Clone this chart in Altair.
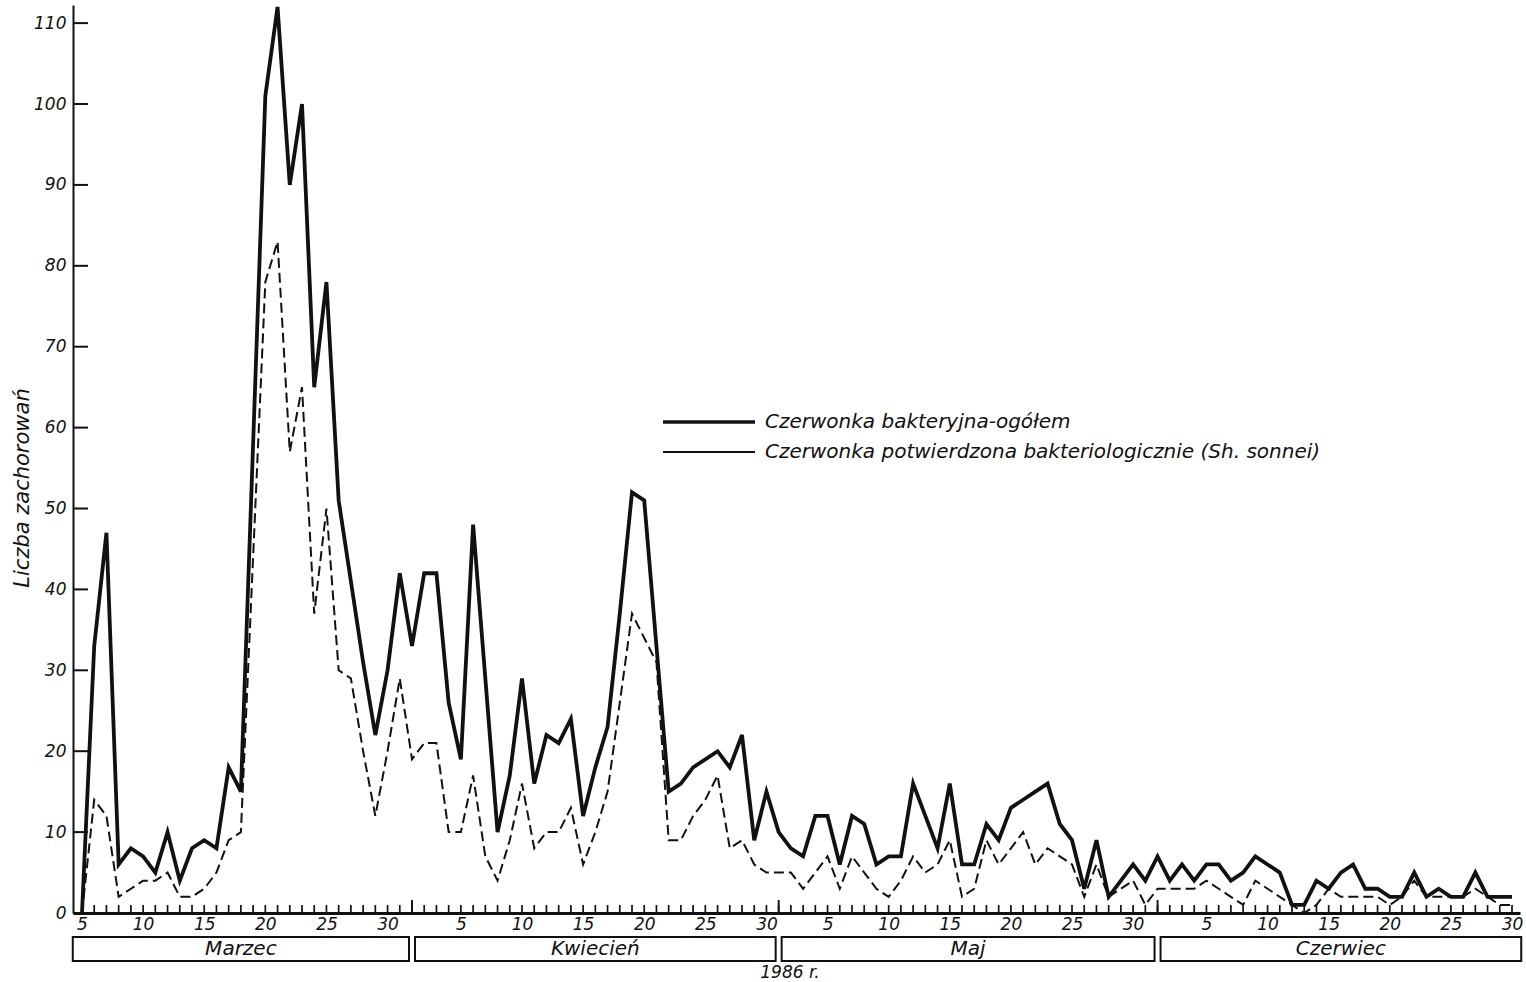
import altair as alt
import pandas as pd

# Daily numbers of cases, 5 March - 30 June 1986
total_march = [0, 33, 47, 6, 8, 7, 5, 10, 4, 8, 9, 8, 18, 15, 58, 101, 112, 90, 100, 65,
               78, 51, 41, 31, 22, 30, 42]
total_april = [33, 42, 42, 26, 19, 48, 29, 10, 17, 29, 16, 22, 21, 24, 12, 18, 23, 37, 52, 51,
               33, 15, 16, 18, 19, 20, 18, 22, 9, 15]
total_may = [10, 8, 7, 12, 12, 6, 12, 11, 6, 7, 7, 16, 12, 8, 16, 6, 6, 11, 9, 13,
             14, 15, 16, 11, 9, 3, 9, 2, 4, 6, 4]
total_june = [7, 4, 6, 4, 6, 6, 4, 5, 7, 6, 5, 1, 1, 4, 3, 5, 6, 3, 3, 2,
              2, 5, 2, 3, 2, 2, 5, 2, 2, 2]

sonnei_march = [0, 14, 12, 2, 3, 4, 4, 5, 2, 2, 3, 5, 9, 10, 44, 78, 83, 57, 65, 37,
                50, 30, 29, 20, 12, 20, 29]
sonnei_april = [19, 21, 21, 10, 10, 17, 7, 4, 9, 16, 8, 10, 10, 13, 6, 10, 15, 26, 37, 34,
                31, 9, 9, 12, 14, 17, 8, 9, 6, 5]
sonnei_may = [5, 5, 3, 5, 7, 3, 7, 5, 3, 2, 4, 7, 5, 6, 9, 2, 3, 9, 6, 8,
              10, 6, 8, 7, 6, 2, 6, 2, 3, 4, 1]
sonnei_june = [3, 3, 3, 3, 4, 3, 2, 1, 4, 3, 2, 1, 0, 1, 3, 2, 2, 2, 2, 1,
               2, 4, 2, 2, 2, 2, 3, 2, 1, 1]

month_names = ["Marzec", "Kwiecień", "Maj", "Czerwiec"]
month_starts = ["1986-03-04", "1986-04-01", "1986-05-01", "1986-06-01"]
month_ends = ["1986-04-01", "1986-05-01", "1986-06-01", "1986-07-01"]
month_lengths = [31, 30, 31, 30]

y_title = "Liczba zachorowań"
legend_total = "Czerwonka bakteryjna-ogółem"
legend_sonnei = "Czerwonka potwierdzona bakteriologicznie (Sh. sonnei)"
year_label = "1986 r."

INK = "#111111"
FONT = "DejaVu Sans"
W, H = 1447, 908

dates = pd.date_range("1986-03-05", "1986-06-30", freq="D")
df = pd.DataFrame({
    "date": dates.strftime("%Y-%m-%d"),
    "total": total_march + total_april + total_may + total_june,
    "sonnei": sonnei_march + sonnei_april + sonnei_may + sonnei_june,
})

starts = pd.to_datetime(month_starts)
ends = pd.to_datetime(month_ends)
months = pd.DataFrame({
    "name": month_names,
    "start": starts.strftime("%Y-%m-%dT%H:%M:%SZ"),
    "end": ends.strftime("%Y-%m-%dT%H:%M:%SZ"),
    "mid": (starts + (ends - starts) / 2).strftime("%Y-%m-%dT%H:%M:%SZ"),
})
first_days = pd.DataFrame({"date": month_starts[1:]})

label_dates = []
for m, last in zip([3, 4, 5, 6], month_lengths):
    for d in range(5, last + 1, 5):
        label_dates.append(alt.DateTime(year=1986, month=m, date=d, utc=True))

xscale = alt.Scale(
    type="utc",
    domain=[alt.DateTime(year=1986, month=3, date=4, hours=6, minutes=20, utc=True),
            alt.DateTime(year=1986, month=6, date=30, hours=15, minutes=42, utc=True)],
)
yscale = alt.Scale(domain=[0, 112.24], nice=False, zero=True)

xaxis = alt.Axis(values=label_dates, labelExpr="utcdate(datum.value)", title=None,
                 grid=False, ticks=False, domainColor=INK, domainWidth=3,
                 labelFont=FONT, labelFontSize=17, labelFontStyle="italic",
                 labelColor=INK, labelPadding=3, labelOverlap=False, labelFlush=False)
yaxis = alt.Axis(values=list(range(0, 111, 10)), title=None, grid=False, ticks=False,
                 domainColor=INK, domainWidth=2, labelFont=FONT, labelFontSize=17,
                 labelFontStyle="italic", labelColor=INK, labelPadding=7)

X = alt.X("date:T", scale=xscale, axis=xaxis)

# inward ticks on the value axis
yticks = alt.Chart(pd.DataFrame({"v": list(range(0, 111, 10))})).mark_rule(
    strokeWidth=2, color=INK
).encode(y=alt.Y("v:Q", scale=yscale, axis=yaxis), x=alt.value(0), x2=alt.value(15))

# one small tick per day along the time axis, taller at the first of each month
day_ticks = alt.Chart(df).mark_rule(strokeWidth=1.7, color=INK).encode(
    x=X, y=alt.value(H - 1), y2=alt.value(H - 8)
)
month_ticks = alt.Chart(first_days).mark_rule(strokeWidth=1.9, color=INK).encode(
    x=X, y=alt.value(H), y2=alt.value(H - 13)
)

sonnei_line = alt.Chart(df).mark_line(
    color=INK, strokeWidth=2, strokeDash=[10, 5]
).encode(x=X, y=alt.Y("sonnei:Q", scale=yscale, axis=yaxis))

total_line = alt.Chart(df).mark_line(
    color=INK, strokeWidth=3.8, strokeJoin="miter"
).encode(x=X, y=alt.Y("total:Q", scale=yscale, axis=yaxis))

# month boxes under the axis
boxes = alt.Chart(months).mark_rect(
    fillOpacity=0, stroke=INK, strokeWidth=2, xOffset=3, x2Offset=-3
).encode(
    x=alt.X("start:T", scale=xscale, axis=xaxis), x2="end:T",
    y=alt.value(932), y2=alt.value(956)
)
box_text = alt.Chart(months).mark_text(
    font=FONT, fontSize=20, fontStyle="italic", color=INK, baseline="middle"
).encode(x=alt.X("mid:T", scale=xscale, axis=xaxis), y=alt.value(944), text="name:N")

year_text = alt.Chart(pd.DataFrame({"t": [year_label]})).mark_text(
    font=FONT, fontSize=17, fontStyle="italic", color=INK, baseline="middle"
).encode(x=alt.value(717), y=alt.value(968), text="t:N")

title_text = alt.Chart(pd.DataFrame({"t": [y_title]})).mark_text(
    font=FONT, fontSize=21, fontStyle="italic", color=INK, angle=270, baseline="middle"
).encode(x=alt.value(-50), y=alt.value(483), text="t:N")

# legend
leg1_line = alt.Chart(pd.DataFrame({"t": [legend_total]})).mark_rule(
    strokeWidth=3.5, color=INK
).encode(x=alt.value(590), x2=alt.value(682), y=alt.value(417))
leg1_text = alt.Chart(pd.DataFrame({"t": [legend_total]})).mark_text(
    font=FONT, fontSize=20, fontStyle="italic", color=INK, align="left", baseline="middle"
).encode(x=alt.value(692), y=alt.value(417), text="t:N")
leg2_line = alt.Chart(pd.DataFrame({"t": [legend_sonnei]})).mark_rule(
    strokeWidth=1.8, color=INK
).encode(x=alt.value(590), x2=alt.value(682), y=alt.value(447))
leg2_text = alt.Chart(pd.DataFrame({"t": [legend_sonnei]})).mark_text(
    font=FONT, fontSize=20, fontStyle="italic", color=INK, align="left", baseline="middle"
).encode(x=alt.value(692), y=alt.value(447), text="t:N")

chart = alt.layer(
    yticks, day_ticks, month_ticks, sonnei_line, total_line,
    boxes, box_text, year_text, title_text,
    leg1_line, leg1_text, leg2_line, leg2_text,
).properties(
    width=W, height=H,
    autosize=alt.AutoSizeParams(type="none"),
    padding={"left": 73, "top": 5, "right": 6, "bottom": 69},
    background="white",
).configure_view(stroke=None)

chart.save("out.html", embed_options={"renderer": "svg", "actions": False})
